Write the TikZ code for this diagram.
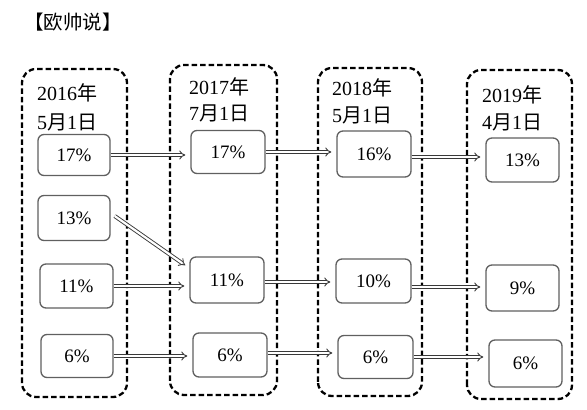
\documentclass[tikz,border=0pt]{standalone}
\usepackage{fontspec}
\setmainfont{Liberation Serif}
\newfontfamily\cjk{Noto Sans CJK SC}
\usetikzlibrary{arrows.meta,calc}
\tikzset{
  grp/.style={draw=black, line width=2.3pt, dash pattern=on 5.5pt off 3pt, rounded corners=14pt},
  val/.style={draw=gray!75!black, line width=1.3pt, rounded corners=6pt, fill=white, inner sep=0pt, font=\fontsize{19}{22}\selectfont},
  dat/.style={anchor=west, inner sep=0pt, font=\fontsize{20}{24}\selectfont},
  dar/.style={draw=gray!45!black, line width=0.9pt, double=white, double distance=2.2pt, -{Implies[length=5pt]}, shorten >=5pt}
}
\begin{document}
\begin{tikzpicture}[x=1pt,y=1pt]
\useasboundingbox (0,0) rectangle (587,410);
% title
\node[anchor=west, inner sep=0pt, font=\cjk\fontsize{19.5}{22}\selectfont] (title) at (24,388) {【欧帅说】};
% groups
\draw[grp] (22,13) rectangle (127,341);
\draw[grp] (170,15) rectangle (277,345);
\draw[grp] (318,14) rectangle (422,342);
\draw[grp] (467,11) rectangle (572,340);
% dates
\node[dat] (d1a) at (37,317) {2016{\cjk 年}};
\node[dat] (d1b) at (37,288) {5{\cjk 月}1{\cjk 日}};
\node[dat] (d2a) at (189,323) {2017{\cjk 年}};
\node[dat] (d2b) at (189,297) {7{\cjk 月}1{\cjk 日}};
\node[dat] (d3a) at (332,322) {2018{\cjk 年}};
\node[dat] (d3b) at (332,295) {5{\cjk 月}1{\cjk 日}};
\node[dat] (d4a) at (482,315) {2019{\cjk 年}};
\node[dat] (d4b) at (482,288) {4{\cjk 月}1{\cjk 日}};
% value boxes
\node[val, minimum width=72pt, minimum height=41pt] (c1r1) at (74,255) {17\%};
\node[val, minimum width=72pt, minimum height=45pt] (c1r2) at (74,192) {13\%};
\node[val, minimum width=73pt, minimum height=44pt] (c1r3) at (76.5,124) {11\%};
\node[val, minimum width=72pt, minimum height=43pt] (c1r4) at (77,54) {6\%};
\node[val, minimum width=74pt, minimum height=43pt] (c2r1) at (228,258) {17\%};
\node[val, minimum width=74pt, minimum height=46pt] (c2r2) at (227,130) {11\%};
\node[val, minimum width=74pt, minimum height=44pt] (c2r3) at (230,55) {6\%};
\node[val, minimum width=74pt, minimum height=46pt] (c3r1) at (374,256) {16\%};
\node[val, minimum width=75pt, minimum height=44pt] (c3r2) at (373.5,129) {10\%};
\node[val, minimum width=75pt, minimum height=43pt] (c3r3) at (375.5,53) {6\%};
\node[val, minimum width=73pt, minimum height=44pt] (c4r1) at (522.5,250) {13\%};
\node[val, minimum width=73pt, minimum height=46pt] (c4r2) at (522.5,122) {9\%};
\node[val, minimum width=73pt, minimum height=47pt] (c4r3) at (525.5,46.5) {6\%};
% arrow start points
\coordinate (s11) at (c1r1.east);
\coordinate (s12) at (c2r1.east);
\coordinate (s13) at ([yshift=-3pt]c3r1.east);
\coordinate (s31) at (c1r3.east);
\coordinate (s32) at ([yshift=-2pt]c2r2.east);
\coordinate (s33) at ([yshift=-6pt]c3r2.east);
\coordinate (s41) at (c1r4.east);
\coordinate (s42) at ([yshift=2pt]c2r3.east);
\coordinate (s43) at (c3r3.east);
% arrows
\draw[dar] (s11) -- (c2r1.west |- s11);
\draw[dar] (s12) -- (c3r1.west |- s12);
\draw[dar] (s13) -- (c4r1.west |- s13);
\draw[dar] ([xshift=4pt,yshift=2pt]c1r2.east) -- ($(c2r2.north west)!0.25!(c2r2.south west)$);
\draw[dar] (s31) -- (c2r2.west |- s31);
\draw[dar] (s32) -- (c3r2.west |- s32);
\draw[dar] (s33) -- (c4r2.west |- s33);
\draw[dar] (s41) -- (c2r3.west |- s41);
\draw[dar] (s42) -- (c3r3.west |- s42);
\draw[dar] (s43) -- (c4r3.west |- s43);
\end{tikzpicture}
\end{document}
